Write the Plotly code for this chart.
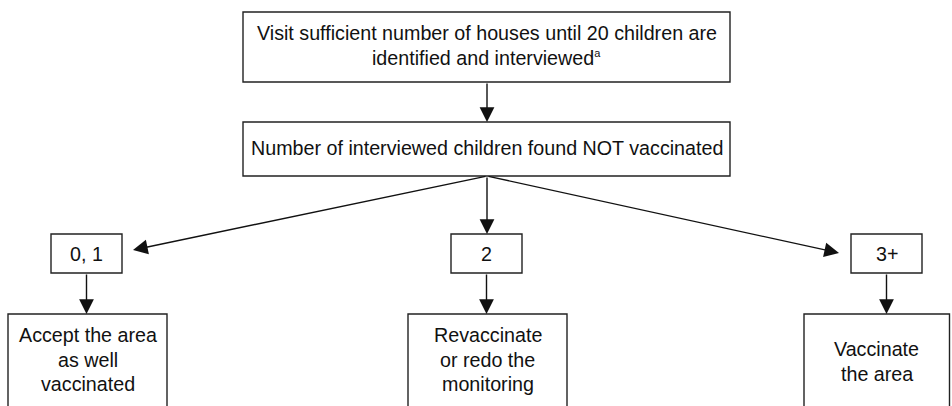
import plotly.graph_objects as go

# ---- content ----
top_lines = ["Visit sufficient number of houses until 20 children are",
             "identified and interviewed<sup><span style='font-size:11px'>a</span></sup>"]
mid_text = "Number of interviewed children found NOT vaccinated"
count_labels = ["0, 1", "2", "3+"]
outcome_lines = [["Accept the area", "as well", "vaccinated"],
                 ["Revaccinate", "or redo the", "monitoring"],
                 ["Vaccinate", "the area"]]

# ---- layout (pixel coordinates) ----
W, H = 952, 406
top_box = (243, 12, 730, 82)
mid_box = (243, 122, 730, 176)
count_boxes = [(51, 234, 122, 273), (451, 234, 522, 273), (851, 234, 922, 273)]
outcome_boxes = [(8, 314, 167, 430), (408, 314, 567, 430), (804, 314, 949.5, 430)]
top_line_y = [33, 58]
outcome_line_y = [[335, 360, 384], [335, 360, 384], [349, 374]]
count_arrow_tips = [(133, 250), (487, 234), (839, 253)]

FONT = dict(family="Liberation Sans, Arial, Helvetica, sans-serif", size=19.7, color="#111")
LINE = dict(color="#222", width=1.4)

fig = go.Figure()
fig.add_trace(go.Scatter(x=[0, W], y=[0, H], mode="markers",
                         marker=dict(opacity=0), hoverinfo="skip", showlegend=False))

def rect(b):
    fig.add_shape(type="rect", x0=b[0], y0=b[1], x1=b[2], y1=b[3],
                  xref="x", yref="y", line=LINE, fillcolor="white", layer="below")

def text(x, y, t):
    fig.add_annotation(x=x, y=y, text=t, showarrow=False, xref="x", yref="y",
                       font=FONT, xanchor="center", yanchor="middle")

def arrow(x0, y0, x1, y1):
    fig.add_annotation(x=x1, y=y1, ax=x0, ay=y0, xref="x", yref="y",
                       axref="x", ayref="y", text="", showarrow=True,
                       arrowhead=2, arrowsize=2.1, arrowwidth=1.4,
                       arrowcolor="#111", standoff=0, startstandoff=0)

rect(top_box)
cx_top = (top_box[0] + top_box[2]) / 2
for t, y in zip(top_lines, top_line_y):
    text(cx_top, y, t)

rect(mid_box)
cx_mid = (mid_box[0] + mid_box[2]) / 2
text(cx_mid, (mid_box[1] + mid_box[3]) / 2 - 1, mid_text)

arrow(487, top_box[3], 487, mid_box[1])

for b, lab, tip in zip(count_boxes, count_labels, count_arrow_tips):
    rect(b)
    cx = (b[0] + b[2]) / 2
    text(cx, (b[1] + b[3]) / 2, lab)
    arrow(487, mid_box[3], tip[0], tip[1])

for cb, ob, lines, ys in zip(count_boxes, outcome_boxes, outcome_lines, outcome_line_y):
    rect(ob)
    cx = (cb[0] + cb[2]) / 2
    arrow(cx, cb[3], cx, ob[1])
    for t, y in zip(lines, ys):
        text((ob[0] + ob[2]) / 2, y, t)

fig.update_layout(
    width=W, height=H, margin=dict(l=0, r=0, t=0, b=0),
    paper_bgcolor="white", plot_bgcolor="white", showlegend=False,
    xaxis=dict(range=[0, W], visible=False, fixedrange=True),
    yaxis=dict(range=[H, 0], visible=False, fixedrange=True),
)
fig.write_html("out.html", config={"displayModeBar": False},
               post_script="document.body.style.margin='0';document.body.style.overflow='hidden';")
